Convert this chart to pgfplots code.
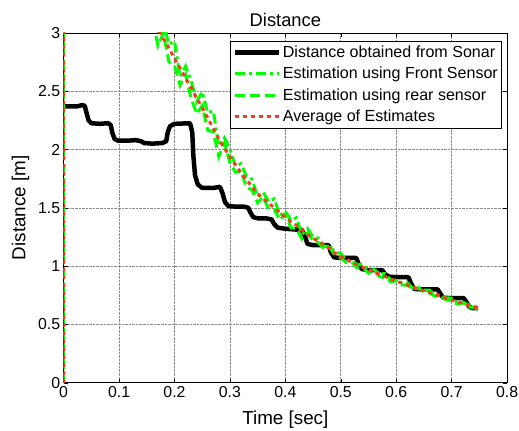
\documentclass[border=0pt]{standalone}
\usepackage{fontspec}
\setmainfont{Liberation Sans}
\usepackage{pgfplots}
\usepackage{pgfplotstable}
\pgfplotsset{compat=1.18}
\definecolor{mgreen}{RGB}{0,255,0}
\definecolor{mred}{RGB}{245,60,35}

% sonar reading (time, distance)
\pgfplotstableread{
t d
0 2.37
0.025 2.37
0.033 2.38
0.038 2.375
0.041 2.32
0.045 2.25
0.05 2.225
0.065 2.22
0.08 2.225
0.085 2.21
0.088 2.14
0.092 2.09
0.098 2.075
0.115 2.075
0.13 2.08
0.14 2.07
0.145 2.055
0.16 2.05
0.178 2.055
0.185 2.07
0.188 2.15
0.192 2.20
0.2 2.22
0.228 2.225
0.232 2.15
0.234 1.95
0.237 1.78
0.242 1.70
0.25 1.67
0.27 1.67
0.282 1.68
0.287 1.62
0.291 1.55
0.297 1.515
0.31 1.51
0.325 1.51
0.333 1.50
0.337 1.46
0.342 1.42
0.35 1.41
0.365 1.41
0.375 1.40
0.38 1.36
0.386 1.33
0.40 1.32
0.43 1.31
0.435 1.26
0.44 1.19
0.45 1.18
0.478 1.18
0.482 1.12
0.488 1.075
0.50 1.07
0.528 1.07
0.532 1.02
0.538 0.975
0.55 0.965
0.575 0.965
0.58 0.93
0.587 0.91
0.6 0.905
0.622 0.905
0.627 0.85
0.632 0.805
0.645 0.80
0.675 0.80
0.68 0.76
0.685 0.73
0.7 0.725
0.722 0.725
0.727 0.69
0.732 0.65
0.738 0.64
0.748 0.64
}\sonar

% estimates (time, average, front, rear)
\pgfplotstableread{
t avg front rear
0 0 0 0
0 20 20 20
0.1 6 6 6
0.15 3.28 3.37 3.175
0.16 3.16 3.31 3.145
0.17 3.04 2.995 2.89
0.18 2.95 3.085 2.995
0.19 2.87 2.90 2.75
0.20 2.78 2.93 2.72
0.21 2.70 2.625 2.55
0.22 2.61 2.715 2.64
0.23 2.53 2.59 2.44
0.24 2.44 2.41 2.305
0.25 2.36 2.495 2.375
0.26 2.27 2.315 2.165
0.27 2.18 2.33 2.15
0.28 2.09 2.03 1.94
0.29 2.01 2.10 2.055
0.30 1.94 2.005 1.888
0.31 1.87 1.857 1.805
0.32 1.80 1.878 1.813
0.33 1.74 1.766 1.675
0.34 1.68 1.745 1.654
0.35 1.62 1.594 1.542
0.36 1.58 1.632 1.593
0.37 1.54 1.553 1.488
0.38 1.50 1.578 1.487
0.39 1.46 1.434 1.395
0.40 1.42 1.472 1.446
0.41 1.38 1.393 1.328
0.42 1.35 1.415 1.324
0.43 1.31 1.271 1.232
0.44 1.27 1.322 1.283
0.45 1.24 1.25 1.22
0.46 1.21 1.24 1.20
0.47 1.18 1.17 1.15
0.48 1.15 1.17 1.16
0.49 1.11 1.12 1.09
0.50 1.08 1.11 1.07
0.51 1.06 1.045 1.03
0.52 1.03 1.05 1.035
0.53 1.01 1.01 0.985
0.54 0.99 1.02 0.985
0.55 0.97 0.96 0.94
0.56 0.95 0.97 0.96
0.57 0.93 0.935 0.91
0.58 0.91 0.935 0.90
0.59 0.89 0.88 0.865
0.60 0.87 0.88 0.874
0.61 0.855 0.857 0.839
0.62 0.84 0.858 0.836
0.63 0.82 0.81 0.80
0.64 0.805 0.819 0.811
0.65 0.79 0.794 0.778
0.66 0.775 0.795 0.769
0.67 0.76 0.754 0.742
0.68 0.74 0.752 0.744
0.69 0.725 0.729 0.711
0.70 0.71 0.726 0.704
0.71 0.695 0.687 0.675
0.72 0.68 0.692 0.686
0.73 0.665 0.667 0.649
0.74 0.65 0.668 0.646
0.75 0.635 0.629 0.623
}\est

\begin{document}
\begin{tikzpicture}
\begin{axis}[
  scale only axis, width=446bp, height=352bp,
  xmin=0, xmax=0.8, ymin=0, ymax=3,
  xtick={0,0.1,...,0.8}, ytick={0,0.5,...,3},
  /pgf/number format/assume math mode=true,
  ticklabel style={font=\fontsize{16}{19}\selectfont},
  label style={font=\fontsize{19}{22}\selectfont},
  title style={font=\fontsize{18.5}{22}\selectfont, yshift=-3bp},
  title={Distance},
  xlabel={Time [sec]}, ylabel={Distance [m]},
  xlabel style={yshift=-7bp}, ylabel style={yshift=2bp},
  grid=major, grid style={densely dotted, black!45, line width=0.6bp},
  tick align=inside, major tick length=4bp,
  tick style={black, line width=0.5bp},
  axis line style={black, line width=0.6bp},
  legend cell align=left,
  legend image code/.code={\draw[#1] (0bp,0bp) -- (44bp,0bp);},
  legend style={at={(rel axis cs:0.989,0.977)}, anchor=north east,
    draw=black, line width=0.8bp, fill=white,
    font=\fontsize{16.2}{19}\selectfont, row sep=4.5bp,
    inner xsep=2bp, inner ysep=2.5bp},
]
\addplot[black, line width=4.5bp, line join=round] table[x=t, y=d] {\sonar};
\addlegendentry{Distance obtained from Sonar}
\addplot[mgreen, line width=3bp, dash pattern=on 10bp off 4bp on 3bp off 4bp] table[x=t, y=front] {\est};
\addlegendentry{Estimation using Front Sensor}
\addplot[mgreen, line width=3bp, dash pattern=on 10bp off 5bp] table[x=t, y=rear] {\est};
\addlegendentry{Estimation using rear sensor}
\addplot[mred, line width=3bp, dash pattern=on 4bp off 4bp] table[x=t, y=avg] {\est};
\addlegendentry{Average of Estimates}
\coordinate (sw) at (rel axis cs:0,0);
\coordinate (ne) at (rel axis cs:1,1);
\end{axis}
\pgfresetboundingbox
\path[use as bounding box] ([shift={(-64bp,-48bp)}]sw) rectangle ([shift={(12bp,33bp)}]ne);
\end{tikzpicture}
\end{document}
